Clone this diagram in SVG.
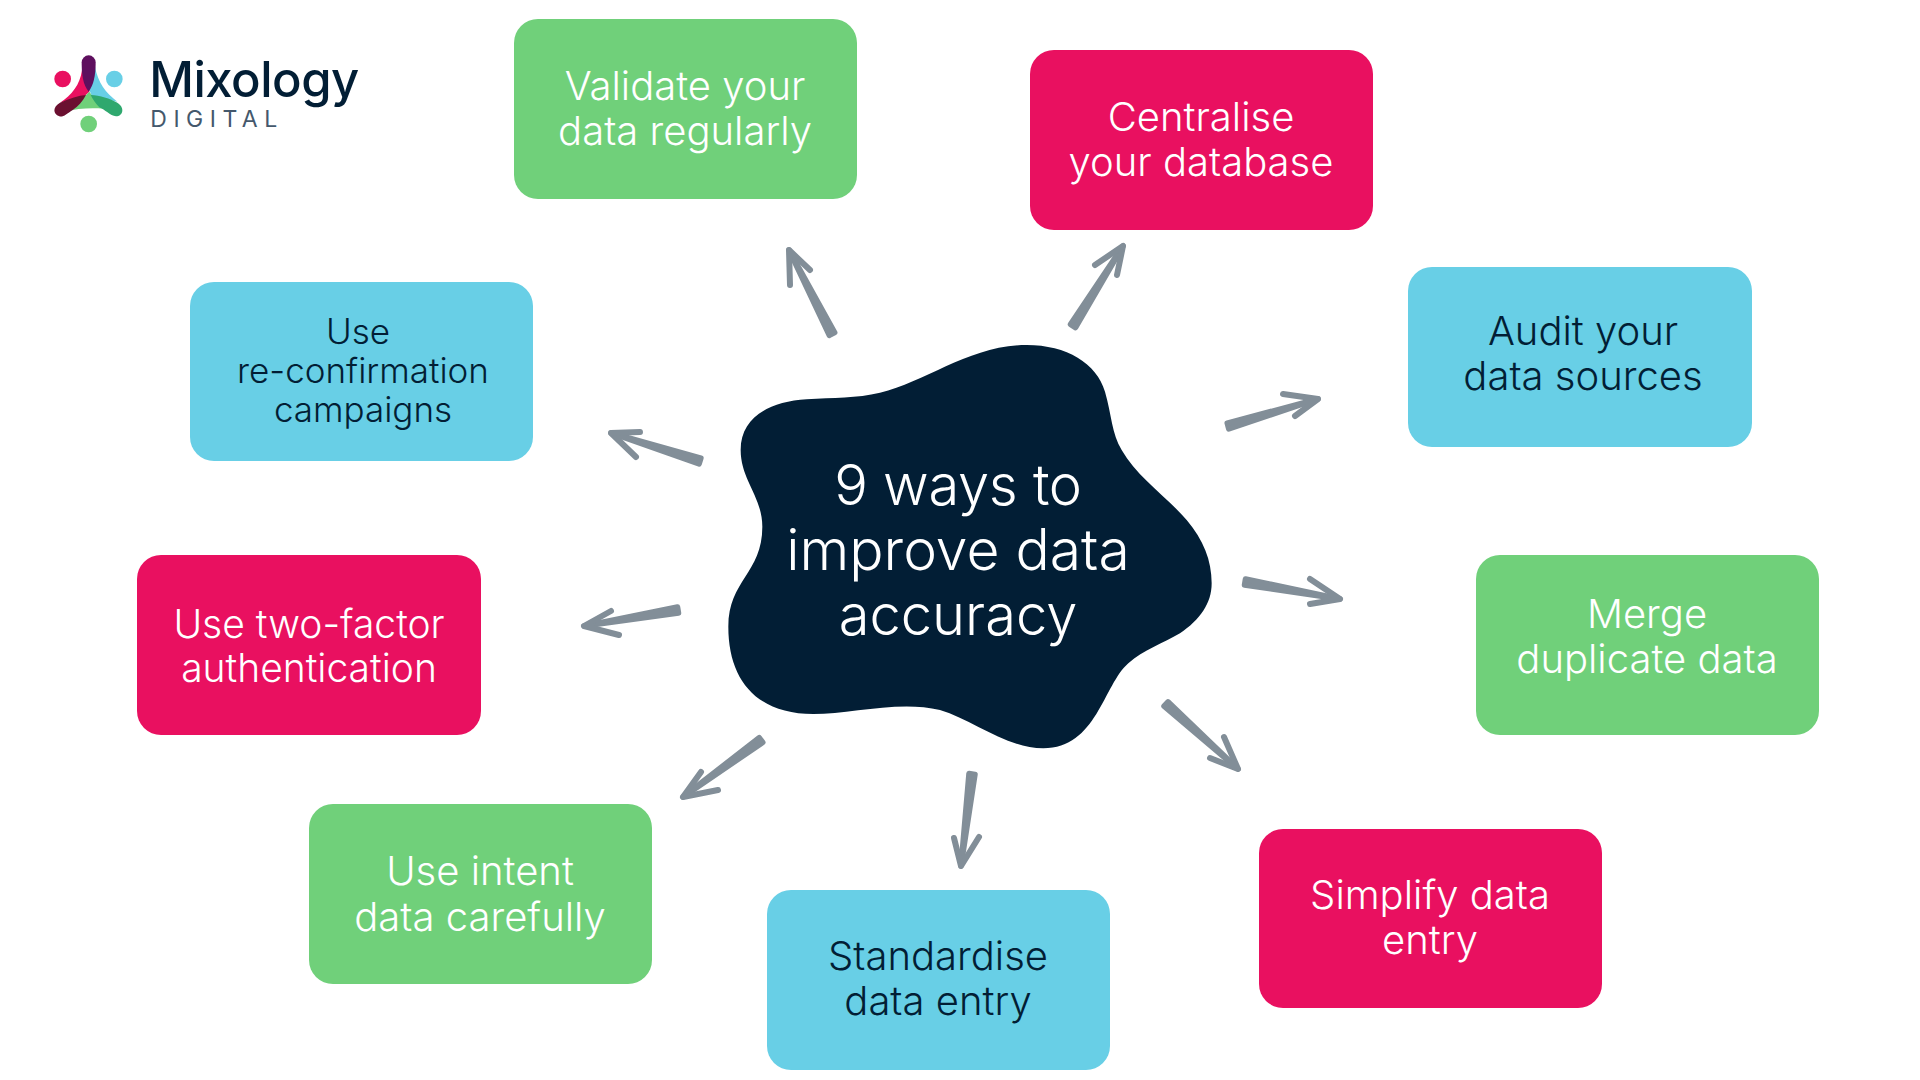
<svg xmlns="http://www.w3.org/2000/svg" width="1920" height="1080" viewBox="0 0 1920 1080">
<style>
text{font-family:"Inter","Noto Sans",sans-serif;text-anchor:middle}
.g{fill:#70D07A}.p{fill:#E91060}.b{fill:#68CFE6}
.w{fill:#fff;font-weight:350;font-size:40px}
.d{fill:#021E35;font-weight:350;font-size:40px}
.s{fill:#828E98;stroke:#828E98;stroke-width:5.500;stroke-linejoin:round}
.h{fill:none;stroke:#828E98;stroke-width:6;stroke-linecap:round;stroke-linejoin:round}
</style>
<rect width="1920" height="1080" fill="#fff"/>
<g id="logo">
<g transform="translate(30 30) scale(.33333)">
<circle cx="98" cy="147" r="25" fill="#E91060"/>
<circle cx="253" cy="147" r="25" fill="#68CFE6"/>
<circle cx="176" cy="282" r="25" fill="#70D07A"/>
<path d="M156 120C150 165 125 195 90 218L165 197L178 185L195 110Z" fill="#E91060"/>
<path d="M195 110C205 160 225 185 262 215L185 197L178 180Z" fill="#68CFE6"/>
<path d="M168 195L178 185L185 195L250 240C210 232 150 232 105 245Z" fill="#70D07A"/>
<path d="M90 218C120 205 145 197 168 195C158 215 145 228 128 240C110 252 100 262 88 259C68 252 68 230 90 218Z" fill="#6B1030"/>
<path d="M182 195C210 196 240 206 262 218C285 232 280 258 258 259C240 258 225 238 208 232C198 222 188 208 182 195Z" fill="#2FA86E"/>
<path d="M155 97a21 21 0 0 1 42 0C197 140 190 165 176 185C160 165 155 140 155 97Z" fill="#5E0F5E"/>
</g>
<text x="254" y="97" style="font-size:49px;font-weight:500;fill:#021E35;letter-spacing:-.5px">Mixology</text>
<text x="217" y="127" style="font-size:23px;font-weight:400;fill:#44586C;letter-spacing:6.500px">DIGITAL</text>
</g>
<g id="connectors">
<path class="s" d="M834.7 332.6L789 250L829.3 335.4Z"/><path class="h" d="M790 285L789 250L810 270"/>
<path class="s" d="M1075.5 327.6L1123 246L1070.500 324.400Z"/><path class="h" d="M1095 265L1123 246L1117 275"/>
<path class="s" d="M1228.800 428.900L1318 399L1227.200 423.100Z"/><path class="h" d="M1283 394L1318 399L1295 416"/>
<path class="s" d="M1244.500 585L1340 599L1245.500 579Z"/><path class="h" d="M1310 579L1340 599L1310 604"/>
<path class="s" d="M1164 706.200L1238 769L1168 701.800Z"/><path class="h" d="M1224 737L1238 769L1210 758"/>
<path class="s" d="M975 774.400L961 866L969 773.600Z"/><path class="h" d="M954 838L961 866L979 837"/>
<path class="s" d="M762.800 742.400L683 797L759.200 737.600Z"/><path class="h" d="M701 772L683 797L718 790"/>
<path class="s" d="M678.500 613L584 626L677.500 607Z"/><path class="h" d="M611 611L584 626L619 635"/>
<path class="s" d="M700.900 458.100L611 433L699.100 463.900Z"/><path class="h" d="M640 432L611 433L636 457"/>
</g>
<g id="center">
<path transform="translate(700 320) scale(.33333)" fill="#021E35" d="M980 75C1100 75 1190 130 1215 215C1235 285 1235 340 1265 390C1310 470 1400 530 1460 600C1510 660 1535 720 1535 790C1535 850 1500 900 1440 940C1390 970 1330 990 1285 1030C1210 1095 1190 1285 1030 1285C920 1285 820 1200 720 1170C600 1140 450 1182 340 1182C170 1182 85 1080 85 920C85 780 187 760 187 620C187 530 122 480 122 390C122 290 210 245 320 238C400 232 470 235 540 218C680 185 810 75 980 75Z"/>
<text class="w" style="font-size:56px;letter-spacing:-.3px" x="958" y="505">9 ways to</text>
<text class="w" style="font-size:57px" x="958" y="570">improve data</text>
<text class="w" style="font-size:56px" x="958" y="635">accuracy</text>
</g>
<g id="validate"><rect class="g" x="514" y="19" width="343" height="180" rx="24"/><text class="w" x="685" y="100">Validate your</text><text class="w" x="685" y="145">data regularly</text></g>
<g id="centralise"><rect class="p" x="1030" y="50" width="343" height="180" rx="24"/><text class="w" x="1201" y="131">Centralise</text><text class="w" x="1201" y="176">your database</text></g>
<g id="audit"><rect class="b" x="1408" y="267" width="344" height="180" rx="24"/><text class="d" x="1583" y="345">Audit your</text><text class="d" x="1583" y="390">data sources</text></g>
<g id="merge"><rect class="g" x="1476" y="555" width="343" height="180" rx="24"/><text class="w" x="1647" y="628">Merge</text><text class="w" x="1647" y="673">duplicate data</text></g>
<g id="simplify"><rect class="p" x="1259" y="829" width="343" height="179" rx="24"/><text class="w" x="1430" y="909">Simplify data</text><text class="w" x="1430" y="954">entry</text></g>
<g id="standardise"><rect class="b" x="767" y="890" width="343" height="180" rx="24"/><text class="d" x="938" y="970">Standardise</text><text class="d" x="938" y="1015">data entry</text></g>
<g id="intent"><rect class="g" x="309" y="804" width="343" height="180" rx="24"/><text class="w" x="480" y="885">Use intent</text><text class="w" x="480" y="931">data carefully</text></g>
<g id="twofactor"><rect class="p" x="137" y="555" width="344" height="180" rx="24"/><text class="w" style="font-size:39px" x="309" y="638">Use two-factor</text><text class="w" style="font-size:39px" x="309" y="682">authentication</text></g>
<g id="reconfirm"><rect class="b" x="190" y="282" width="343" height="179" rx="24"/><text class="d" style="font-size:35px" x="358" y="344">Use</text><text class="d" style="font-size:35px" x="363" y="383">re-confirmation</text><text class="d" style="font-size:35px" x="363" y="422">campaigns</text></g>
</svg>
